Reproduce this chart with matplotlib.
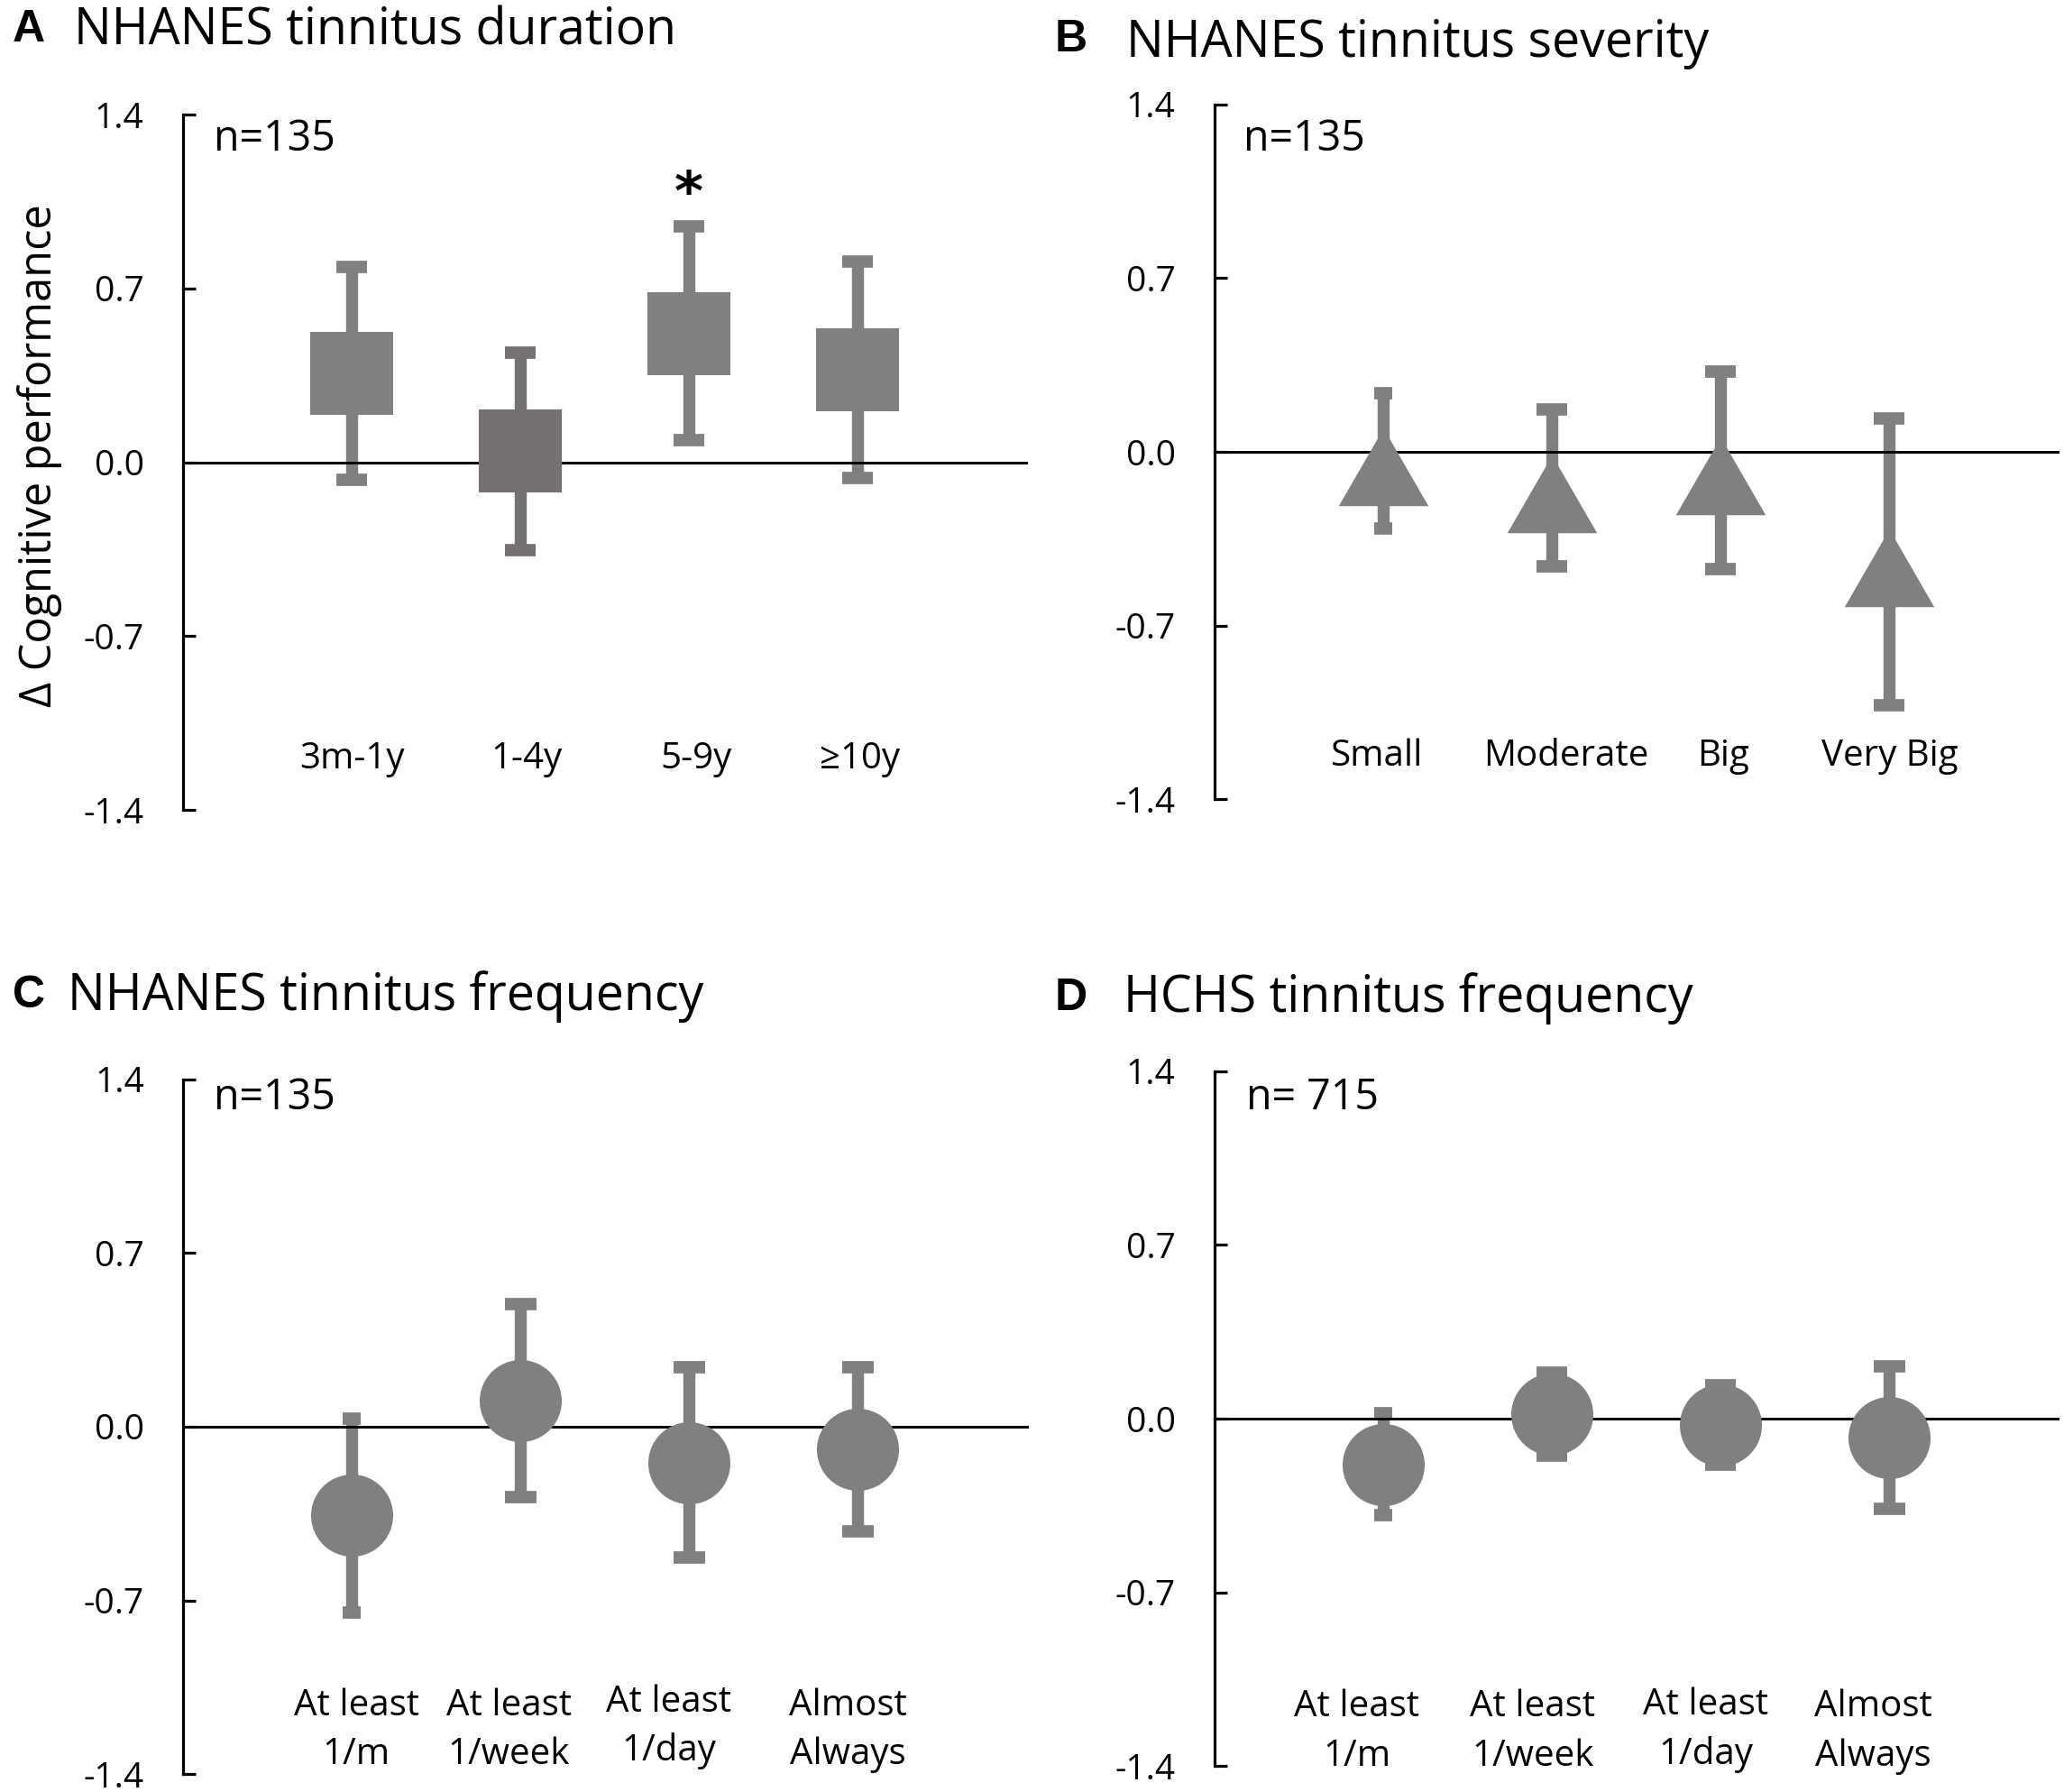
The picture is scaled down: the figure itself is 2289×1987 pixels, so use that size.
import matplotlib
matplotlib.use("Agg")
import matplotlib.pyplot as plt

# ---------------- data ----------------
y_ticks = [-1.4, -0.7, 0.0, 0.7, 1.4]

dur_labels = ["3m-1y", "1-4y", "5-9y", "≥10y"]
dur_mean = [0.359, 0.045, 0.520, 0.374]
dur_err = [0.429, 0.398, 0.430, 0.436]

sev_labels = ["Small", "Moderate", "Big", "Very Big"]
sev_mean = [-0.036, -0.145, -0.074, -0.444]
sev_err = [0.273, 0.316, 0.398, 0.578]

freq_labels = ["At least\n1/m", "At least\n1/week", "At least\n1/day", "Almost\nAlways"]
nh_freq_mean = [-0.357, 0.104, -0.145, -0.091]
nh_freq_err = [0.391, 0.389, 0.383, 0.332]

hchs_freq_mean = [-0.185, 0.018, -0.026, -0.078]
hchs_freq_err = [0.205, 0.167, 0.160, 0.287]

panel_letters = ["A", "B", "C", "D"]
panel_titles = ["NHANES tinnitus duration", "NHANES tinnitus severity",
                "NHANES tinnitus frequency", "HCHS tinnitus frequency"]
n_texts = ["n=135", "n=135", "n=135", "n= 715"]
ylabel = "Δ Cognitive performance"
sig_text = "*"

# ---------------- style / layout ----------------
W, H, DPI = 2289, 1987, 100
plt.rcParams['font.family'] = ['Open Sans', 'DejaVu Sans']
GRAY = '#808080'
DARK = '#767171'
SANS = ['Open Sans', 'DejaVu Sans']
BOLD = ['Liberation Sans', 'DejaVu Sans']

def pt(p):
    return p * 72.0 / DPI

fig = plt.figure(figsize=(W / DPI, H / DPI), dpi=DPI)
fig.patch.set_facecolor('white')

# axes boxes in pixels: left, right, top(1.4), bottom(-1.4)
boxes = [(202.7, 1138.2, 127.3, 898.1),
         (1346.7, 2281.7, 115.6, 886.4),
         (203.0, 1138.5, 1196.6, 1967.4),
         (1346.7, 2281.7, 1187.6, 1958.4)]

def add_axes_px(b):
    l, r, t, bt = b
    return fig.add_axes([l / W, 1 - bt / H, (r - l) / W, (bt - t) / H])

def ftext(xp, yp, s, **kw):
    return fig.text(xp / W, 1 - yp / H, s, **kw)

tri = [(0, 0.732), (-1, -1), (1, -1)]
markers = ['s', tri, 'o', 'o']
msizes = [pt(92), pt(99.5), pt(91), pt(91)]
means_all = [dur_mean, sev_mean, nh_freq_mean, hchs_freq_mean]
errs_all = [dur_err, sev_err, nh_freq_err, hchs_freq_err]
colors_all = [[GRAY, DARK, GRAY, GRAY], [GRAY] * 4, [GRAY] * 4, [GRAY] * 4]
capw_all = [[34, 34, 34, 34], [20, 34, 34, 34], [20, 35, 35, 35], [20, 34, 34, 35]]
labels_all = [dur_labels, sev_labels, freq_labels, freq_labels]
label_dx = [[1, 7, 8, 2], [-7, 16, 3, 1], [5, -13, -23, -11], [-29, -21, -16, -17]]
label_dy = [[0, 0, 0, 0], [0, 0, 0, 0], [0, 0, -4, 0], [0, 0, -2, 0]]
label_base = [852, 849, 1901.7, 1903]
line_gap = 54.5

letter_pos = [(14, 46), (1170, 57), (14, 1117), (1170, 1120)]
title_pos = [(81.6, 50), (1249, 63), (75, 1120), (1246, 1122)]
n_pos = [(236.7, 166.7), (1379, 166.7), (237, 1230), (1382.5, 1230)]

for i in range(4):
    ax = add_axes_px(boxes[i])
    l, r, t, bt = boxes[i]
    ax.set_xlim(0, 5)
    ax.set_ylim(-1.4, 1.4)
    ax.set_facecolor('none')
    xs = list(range(1, len(means_all[i]) + 1))
    for xi, m, e, c, cw in zip(xs, means_all[i], errs_all[i], colors_all[i], capw_all[i]):
        ax.errorbar([xi], [m], yerr=[e], fmt='none', ecolor=c,
                    elinewidth=pt(13.4), capsize=pt(cw) / 2, capthick=pt(13.7), zorder=2)
        ax.plot([xi], [m], ls='none', marker=markers[i], ms=msizes[i],
                color=c, mew=0, zorder=3)
    ax.set_yticks(y_ticks)
    ax.set_yticklabels([f"{v:.1f}" for v in y_ticks], fontsize=28, family=SANS)
    ax.set_xticks([])
    for s in ['top', 'right']:
        ax.spines[s].set_visible(False)
    ax.spines['left'].set_linewidth(pt(3.2))
    ax.spines['bottom'].set_position(('data', 0))
    ax.spines['bottom'].set_linewidth(pt(3.0))
    ax.tick_params(axis='y', direction='in', length=pt(14), width=pt(3.2), pad=31, colors='black')
    ax.tick_params(axis='x', length=0)

    # category labels
    for k, lab in enumerate(labels_all[i]):
        xp = l + (xs[k] / 5.0) * (r - l) + label_dx[i][k]
        for j, line in enumerate(lab.split("\n")):
            ftext(xp, label_base[i] + label_dy[i][k] + j * line_gap, line,
                  ha='center', va='baseline', fontsize=29, family=SANS)

    # titles, letters, n
    ftext(*letter_pos[i], panel_letters[i], ha='left', va='baseline', fontsize=36,
          fontweight='bold', family=BOLD)
    ftext(*title_pos[i], panel_titles[i], ha='left', va='baseline', fontsize=40, family=SANS)
    ftext(*n_pos[i], n_texts[i], ha='left', va='baseline', fontsize=33.5, family=SANS)

    if i == 0:
        ax.text(3, 1.015, sig_text, ha='center', va='baseline', fontsize=44,
                fontweight='bold', family=['DejaVu Sans'])

ftext(44, 505, ylabel, rotation=90, ha='center', va='center', fontsize=35, family=SANS)

fig.savefig("out.png", dpi=DPI, facecolor='white')
